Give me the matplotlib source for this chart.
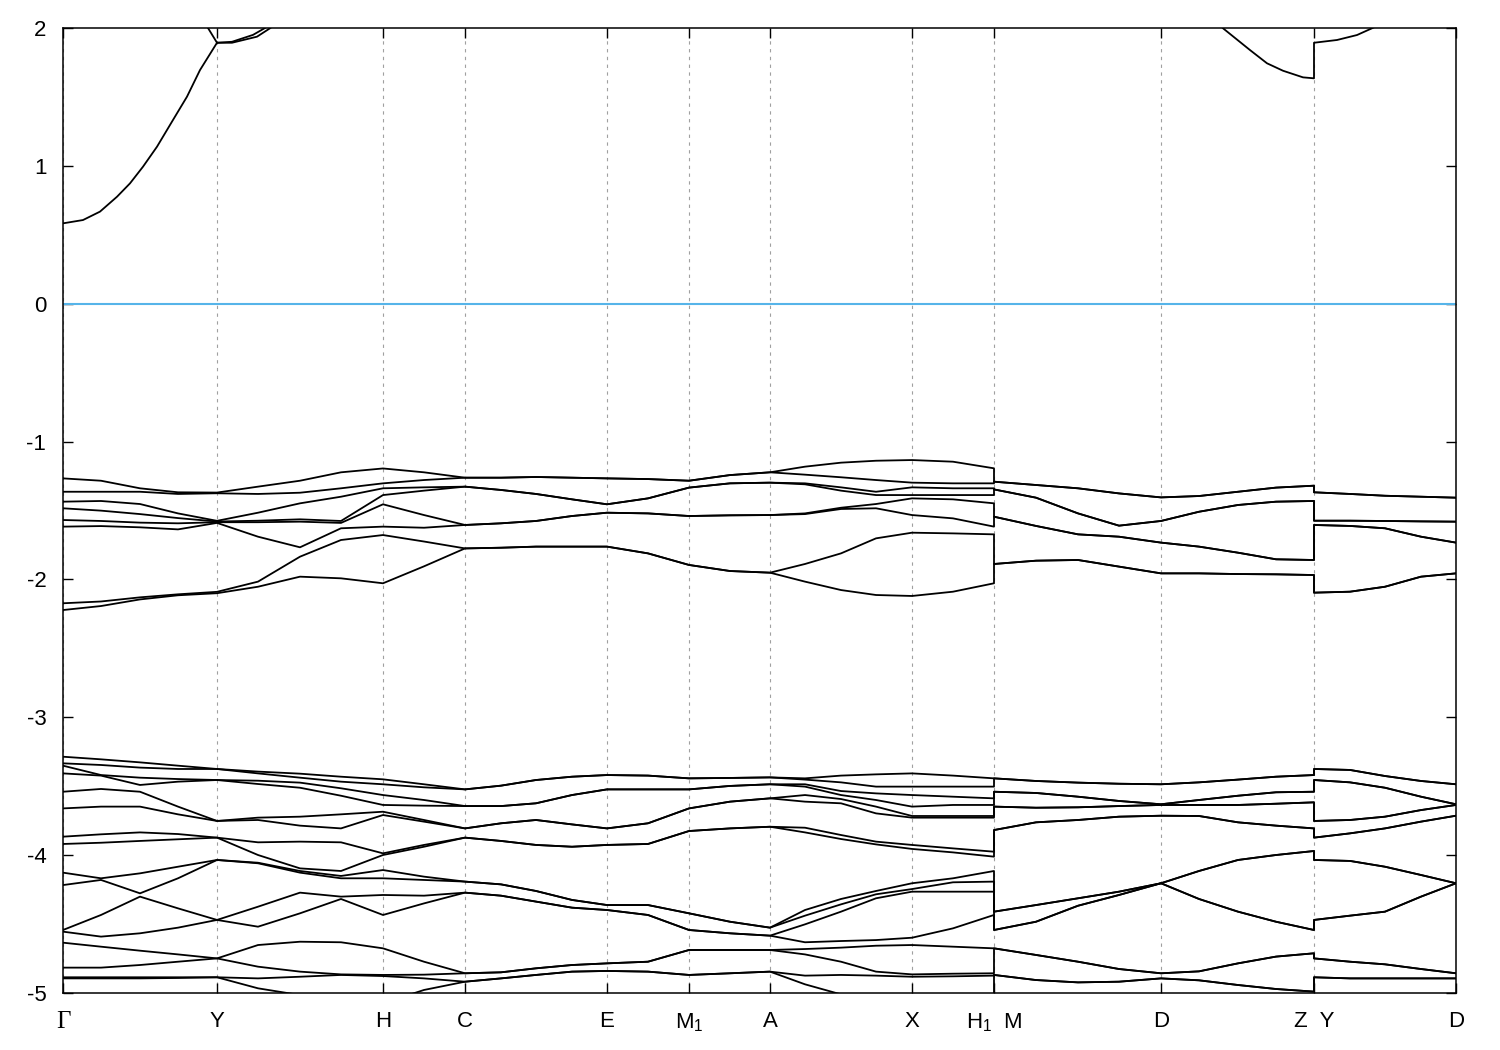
import numpy as np
import matplotlib.pyplot as plt

plt.rcParams['font.family'] = ['Liberation Sans', 'DejaVu Sans']
plt.rcParams['mathtext.fontset'] = 'custom'
plt.rcParams['mathtext.rm'] = 'Liberation Sans'
plt.rcParams['axes.unicode_minus'] = False

# k-path sample positions (break points appear twice)
k_path = [0.00, 0.38, 0.77, 1.15, 1.54, 1.95, 2.37, 2.78, 3.20, 3.61, 4.02, 4.38, 4.73,
          5.09, 5.44, 5.85, 6.26, 6.67, 7.07, 7.42, 7.78, 8.13, 8.49, 8.90, 9.31, 9.31,
          9.73, 10.15, 10.56, 10.98, 11.36, 11.75, 12.13, 12.51, 12.51, 12.87, 13.22,
          13.58, 13.93]
tick_pos = [0.00, 1.54, 3.20, 4.02, 5.44, 6.26, 7.07, 8.49, 9.31, 10.98, 12.51, 13.93]
tick_labels = ['Γ', 'Y', 'H', 'C', 'E', 'M$_1$', 'A', 'X', 'H$_1$  M', 'D', 'Z  Y', 'D']

# conduction band pieces that enter the window
cb_gy_k = [0.00, 0.20, 0.37, 0.54, 0.67, 0.80, 0.94, 1.10, 1.24, 1.37, 1.54]
cb_gy_e = [0.583, 0.607, 0.668, 0.776, 0.873, 0.994, 1.139, 1.333, 1.502, 1.695, 1.893]
cb_y1_k = [1.54, 1.69, 1.94, 2.07, 2.25]
cb_y1_e = [1.893, 1.893, 1.937, 1.998, 2.10]
cb_y2_k = [1.54, 1.69, 1.90, 2.02, 2.18]
cb_y2_e = [1.893, 1.900, 1.950, 2.000, 2.10]
cb_y3_k = [1.54, 1.45, 1.38]
cb_y3_e = [1.893, 2.00, 2.10]
cb_z_k = [11.47, 11.60, 11.87, 12.04, 12.20, 12.40, 12.51, 12.51, 12.74, 12.94, 13.09, 13.27]
cb_z_e = [2.10, 1.998, 1.840, 1.744, 1.690, 1.642, 1.635, 1.893, 1.913, 1.949, 1.998, 2.06]

# upper valence bands (-1.1 .. -2.3), one row per k sample
upper_cols = [
    [-1.267, -1.364, -1.436, -1.484, -1.569, -1.617, -2.173, -2.222],
    [-1.284, -1.364, -1.431, -1.501, -1.576, -1.613, -2.160, -2.193],
    [-1.339, -1.364, -1.453, -1.526, -1.588, -1.622, -2.130, -2.145],
    [-1.368, -1.380, -1.521, -1.555, -1.593, -1.637, -2.108, -2.115],
    [-1.370, -1.375, -1.575, -1.580, -1.585, -1.590, -2.090, -2.100],
    [-1.327, -1.380, -1.516, -1.574, -1.585, -1.690, -2.016, -2.053],
    [-1.284, -1.371, -1.448, -1.564, -1.581, -1.767, -1.835, -1.980],
    [-1.223, -1.339, -1.400, -1.576, -1.590, -1.629, -1.714, -1.992],
    [-1.195, -1.303, -1.339, -1.388, -1.455, -1.617, -1.678, -2.028],
    [-1.223, -1.279, -1.332, -1.356, -1.533, -1.625, -1.725, -1.905],
    [-1.262, -1.262, -1.327, -1.327, -1.605, -1.605, -1.775, -1.775],
    [-1.262, -1.262, -1.351, -1.351, -1.593, -1.593, -1.770, -1.770],
    [-1.257, -1.257, -1.380, -1.380, -1.576, -1.576, -1.762, -1.762],
    [-1.262, -1.262, -1.419, -1.419, -1.540, -1.540, -1.762, -1.762],
    [-1.267, -1.267, -1.455, -1.455, -1.516, -1.516, -1.762, -1.762],
    [-1.272, -1.272, -1.412, -1.412, -1.521, -1.521, -1.811, -1.811],
    [-1.284, -1.284, -1.334, -1.334, -1.540, -1.540, -1.895, -1.895],
    [-1.243, -1.243, -1.303, -1.303, -1.535, -1.535, -1.939, -1.939],
    [-1.223, -1.223, -1.298, -1.298, -1.533, -1.533, -1.951, -1.951],
    [-1.182, -1.240, -1.303, -1.310, -1.521, -1.526, -1.888, -2.016],
    [-1.153, -1.259, -1.332, -1.356, -1.480, -1.489, -1.811, -2.077],
    [-1.139, -1.279, -1.364, -1.388, -1.453, -1.484, -1.702, -2.113],
    [-1.134, -1.298, -1.332, -1.388, -1.412, -1.533, -1.661, -2.120],
    [-1.146, -1.303, -1.339, -1.388, -1.419, -1.557, -1.666, -2.089],
    [-1.194, -1.303, -1.339, -1.388, -1.448, -1.617, -1.673, -2.028],
    [-1.291, -1.291, -1.347, -1.347, -1.545, -1.545, -1.888, -1.888],
    [-1.315, -1.315, -1.407, -1.407, -1.612, -1.612, -1.864, -1.864],
    [-1.339, -1.339, -1.521, -1.521, -1.673, -1.673, -1.859, -1.859],
    [-1.376, -1.376, -1.610, -1.610, -1.690, -1.690, -1.907, -1.907],
    [-1.405, -1.405, -1.576, -1.576, -1.733, -1.733, -1.956, -1.956],
    [-1.395, -1.395, -1.509, -1.509, -1.762, -1.762, -1.956, -1.956],
    [-1.364, -1.364, -1.460, -1.460, -1.806, -1.806, -1.961, -1.961],
    [-1.334, -1.334, -1.436, -1.436, -1.854, -1.854, -1.963, -1.963],
    [-1.320, -1.320, -1.431, -1.431, -1.859, -1.859, -1.968, -1.968],
    [-1.368, -1.368, -1.574, -1.574, -1.605, -1.605, -2.096, -2.096],
    [-1.380, -1.380, -1.574, -1.574, -1.612, -1.612, -2.089, -2.089],
    [-1.393, -1.393, -1.576, -1.576, -1.629, -1.629, -2.053, -2.053],
    [-1.400, -1.400, -1.579, -1.579, -1.690, -1.690, -1.980, -1.980],
    [-1.407, -1.407, -1.581, -1.581, -1.733, -1.733, -1.956, -1.956],
]

# lower valence bands (-3.3 .. -5), one row per k sample
lower_cols = [
    [-3.286, -3.334, -3.351, -3.407, -3.540, -3.661, -3.866, -3.919, -4.127, -4.217, -4.543, -4.555, -4.635, -4.816, -4.886, -4.894],
    [-3.305, -3.346, -3.419, -3.423, -3.520, -3.648, -3.849, -3.910, -4.168, -4.180, -4.434, -4.591, -4.664, -4.816, -4.886, -4.894],
    [-3.327, -3.365, -3.438, -3.491, -3.540, -3.648, -3.835, -3.897, -4.132, -4.277, -4.301, -4.567, -4.693, -4.797, -4.886, -4.894],
    [-3.351, -3.375, -3.448, -3.467, -3.648, -3.704, -3.847, -3.885, -4.084, -4.168, -4.386, -4.526, -4.720, -4.773, -4.886, -4.891],
    [-3.375, -3.375, -3.455, -3.455, -3.752, -3.752, -3.873, -3.873, -4.035, -4.035, -4.470, -4.470, -4.749, -4.749, -4.886, -4.886],
    [-3.394, -3.407, -3.460, -3.484, -3.728, -3.745, -3.907, -3.999, -4.055, -4.059, -4.374, -4.519, -4.652, -4.809, -4.894, -4.966],
    [-3.409, -3.438, -3.474, -3.511, -3.721, -3.786, -3.902, -4.096, -4.115, -4.127, -4.272, -4.422, -4.628, -4.845, -4.882, -5.015],
    [-3.431, -3.467, -3.515, -3.569, -3.704, -3.806, -3.907, -4.115, -4.151, -4.168, -4.301, -4.318, -4.632, -4.865, -4.869, -5.111],
    [-3.450, -3.486, -3.564, -3.636, -3.685, -3.709, -3.987, -3.999, -4.108, -4.168, -4.289, -4.434, -4.676, -4.869, -4.877, -5.075],
    [-3.486, -3.508, -3.600, -3.641, -3.745, -3.757, -3.926, -3.939, -4.156, -4.180, -4.294, -4.350, -4.773, -4.867, -4.894, -4.978],
    [-3.523, -3.523, -3.644, -3.644, -3.806, -3.806, -3.873, -3.873, -4.192, -4.192, -4.272, -4.272, -4.857, -4.857, -4.918, -4.918],
    [-3.496, -3.496, -3.644, -3.644, -3.769, -3.769, -3.897, -3.897, -4.212, -4.212, -4.294, -4.294, -4.850, -4.850, -4.894, -4.894],
    [-3.455, -3.455, -3.624, -3.624, -3.745, -3.745, -3.926, -3.926, -4.260, -4.260, -4.337, -4.337, -4.821, -4.821, -4.869, -4.869],
    [-3.431, -3.431, -3.564, -3.564, -3.777, -3.777, -3.939, -3.939, -4.325, -4.325, -4.381, -4.381, -4.797, -4.797, -4.845, -4.845],
    [-3.419, -3.419, -3.523, -3.523, -3.806, -3.806, -3.926, -3.926, -4.362, -4.362, -4.398, -4.398, -4.785, -4.785, -4.840, -4.840],
    [-3.423, -3.423, -3.523, -3.523, -3.769, -3.769, -3.919, -3.919, -4.362, -4.362, -4.434, -4.434, -4.773, -4.773, -4.845, -4.845],
    [-3.443, -3.443, -3.523, -3.523, -3.661, -3.661, -3.825, -3.825, -4.422, -4.422, -4.543, -4.543, -4.688, -4.688, -4.869, -4.869],
    [-3.440, -3.440, -3.498, -3.498, -3.612, -3.612, -3.806, -3.806, -4.483, -4.483, -4.567, -4.567, -4.688, -4.688, -4.857, -4.857],
    [-3.436, -3.436, -3.486, -3.486, -3.588, -3.588, -3.794, -3.794, -4.526, -4.526, -4.584, -4.584, -4.688, -4.688, -4.845, -4.845],
    [-3.443, -3.452, -3.486, -3.503, -3.564, -3.612, -3.801, -3.835, -4.398, -4.439, -4.502, -4.632, -4.681, -4.720, -4.874, -4.937],
    [-3.423, -3.472, -3.535, -3.564, -3.593, -3.624, -3.854, -3.883, -4.318, -4.357, -4.410, -4.623, -4.671, -4.773, -4.869, -5.010],
    [-3.414, -3.503, -3.552, -3.600, -3.648, -3.697, -3.902, -3.922, -4.260, -4.284, -4.313, -4.616, -4.657, -4.845, -4.874, -5.075],
    [-3.407, -3.503, -3.564, -3.648, -3.716, -3.728, -3.926, -3.955, -4.204, -4.246, -4.265, -4.599, -4.652, -4.865, -4.882, -5.135],
    [-3.423, -3.503, -3.576, -3.636, -3.716, -3.728, -3.951, -3.980, -4.168, -4.197, -4.265, -4.531, -4.664, -4.860, -4.879, -5.111],
    [-3.443, -3.503, -3.588, -3.636, -3.716, -3.728, -3.975, -4.011, -4.115, -4.192, -4.265, -4.434, -4.676, -4.857, -4.874, -5.087],
    [-3.443, -3.443, -3.540, -3.540, -3.648, -3.648, -3.818, -3.818, -4.410, -4.410, -4.543, -4.543, -4.676, -4.676, -4.869, -4.869],
    [-3.462, -3.462, -3.549, -3.549, -3.656, -3.656, -3.762, -3.762, -4.362, -4.362, -4.483, -4.483, -4.724, -4.724, -4.906, -4.906],
    [-3.474, -3.474, -3.576, -3.576, -3.653, -3.653, -3.745, -3.745, -4.313, -4.313, -4.367, -4.367, -4.773, -4.773, -4.923, -4.923],
    [-3.482, -3.482, -3.607, -3.607, -3.644, -3.644, -3.721, -3.721, -4.265, -4.265, -4.289, -4.289, -4.826, -4.826, -4.918, -4.918],
    [-3.486, -3.486, -3.631, -3.631, -3.636, -3.636, -3.714, -3.714, -4.204, -4.204, -4.204, -4.204, -4.857, -4.857, -4.894, -4.894],
    [-3.472, -3.472, -3.600, -3.600, -3.636, -3.636, -3.716, -3.716, -4.115, -4.115, -4.318, -4.318, -4.843, -4.843, -4.908, -4.908],
    [-3.452, -3.452, -3.569, -3.569, -3.636, -3.636, -3.762, -3.762, -4.035, -4.035, -4.410, -4.410, -4.785, -4.785, -4.942, -4.942],
    [-3.431, -3.431, -3.544, -3.544, -3.627, -3.627, -3.786, -3.786, -3.999, -3.999, -4.483, -4.483, -4.736, -4.736, -4.971, -4.971],
    [-3.419, -3.419, -3.540, -3.540, -3.617, -3.617, -3.806, -3.806, -3.970, -3.970, -4.543, -4.543, -4.712, -4.712, -4.990, -4.990],
    [-3.375, -3.375, -3.455, -3.455, -3.752, -3.752, -3.873, -3.873, -4.035, -4.035, -4.470, -4.470, -4.749, -4.749, -4.886, -4.886],
    [-3.382, -3.382, -3.472, -3.472, -3.745, -3.745, -3.842, -3.842, -4.042, -4.042, -4.439, -4.439, -4.773, -4.773, -4.894, -4.894],
    [-3.426, -3.426, -3.511, -3.511, -3.721, -3.721, -3.806, -3.806, -4.084, -4.084, -4.410, -4.410, -4.792, -4.792, -4.894, -4.894],
    [-3.462, -3.462, -3.576, -3.576, -3.673, -3.673, -3.757, -3.757, -4.144, -4.144, -4.301, -4.301, -4.826, -4.826, -4.894, -4.894],
    [-3.486, -3.486, -3.631, -3.631, -3.636, -3.636, -3.714, -3.714, -4.204, -4.204, -4.204, -4.204, -4.857, -4.857, -4.894, -4.894],
]

fig = plt.figure(figsize=(15, 10.5), dpi=100)
ax = fig.add_axes([63 / 1500, 1 - 993 / 1050, 1393 / 1500, 965 / 1050])

# bands drawn in energy order at every k sample
for cols in (upper_cols, lower_cols):
    e = np.sort(np.array(cols), axis=1)
    for i in range(e.shape[1]):
        ax.plot(k_path, e[:, i], color='black', lw=1.3, solid_joinstyle='round')

for kk, ee in [(cb_gy_k, cb_gy_e), (cb_y1_k, cb_y1_e), (cb_y2_k, cb_y2_e),
               (cb_y3_k, cb_y3_e), (cb_z_k, cb_z_e)]:
    ax.plot(kk, ee, color='black', lw=1.3)

ax.axhline(0, color='#56b4e9', lw=1.5)

ax.set_xlim(0, 13.93)
ax.set_ylim(-5, 2)
ax.set_xticks(tick_pos)
ax.set_xticklabels(tick_labels)
ax.set_yticks(range(-5, 3))
ax.grid(axis='x', color='#a0a0a0', lw=0.8, ls=(0, (3, 4)))
ax.tick_params(direction='in', length=7, width=1, top=True, right=True, labelsize=16)
ax.tick_params(axis='x', pad=13)
ax.tick_params(axis='y', pad=12)
ax.get_xticklabels()[0].set_fontfamily('Liberation Serif')
ax.get_xticklabels()[0].set_fontsize(18)
for s in ax.spines.values():
    s.set_linewidth(1.1)

fig.savefig('out.png', dpi=100)
